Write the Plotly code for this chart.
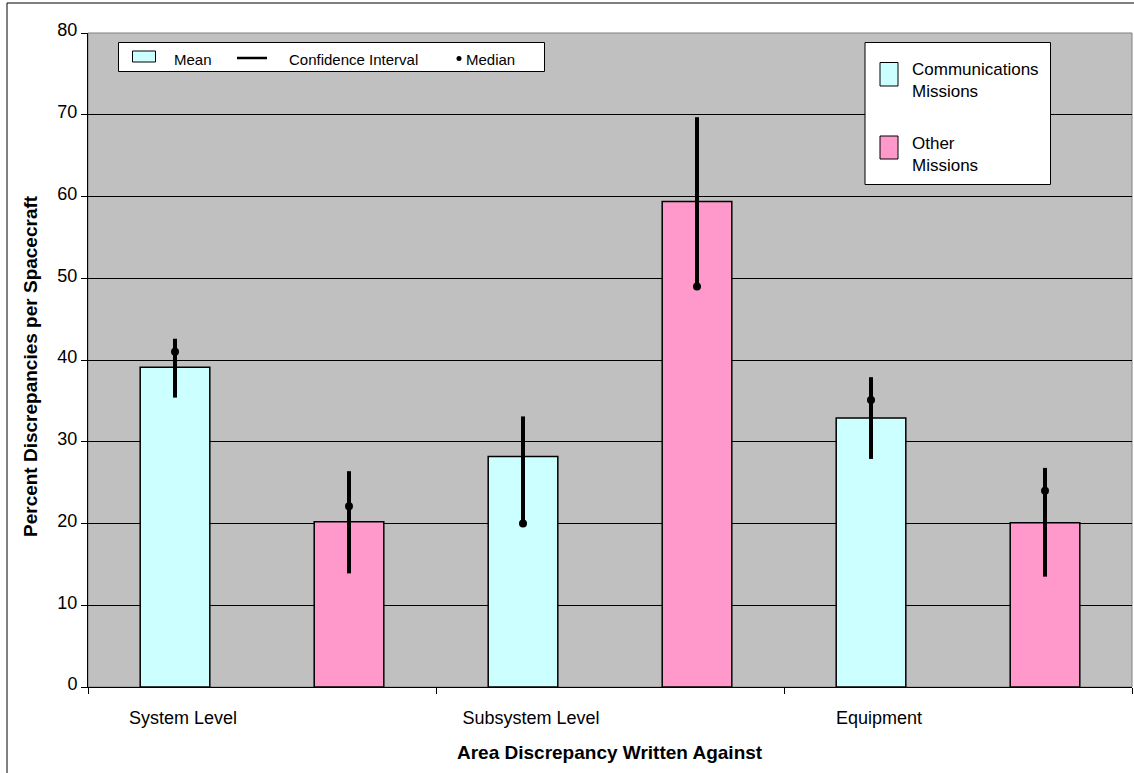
import plotly.graph_objects as go

# ---- data ----
categories = ["System Level", "Subsystem Level", "Equipment"]
comm_mean = [39.1, 28.2, 32.9]
comm_ci_low = [35.4, 20.0, 27.9]
comm_ci_high = [42.6, 33.1, 37.9]
comm_median = [41.0, 20.0, 35.1]
other_mean = [20.2, 59.4, 20.1]
other_ci_low = [13.9, 49.0, 13.5]
other_ci_high = [26.4, 69.7, 26.8]
other_median = [22.1, 49.0, 24.0]
y_ticks = [0, 10, 20, 30, 40, 50, 60, 70, 80]

COMM = "#CCFFFF"
OTHER = "#FF99CC"
FONT = "Liberation Sans, Arial, sans-serif"

W, H = 1134, 773
ML, MR, MT, MB = 88, 2, 33, 86
PW = W - ML - MR
PH = H - MT - MB


def X(px):
    return (px - ML) / PW


def Y(py):
    return (H - MB - py) / PH


fig = go.Figure()


def add_series(name, means, lo, hi, color, grp):
    fig.add_trace(go.Bar(
        x=categories, y=means, name=name,
        marker=dict(color=color, line=dict(color="black", width=1.5)),
        offsetgroup=grp, showlegend=False,
        error_y=dict(type="data", symmetric=False,
                     array=[h - m for h, m in zip(hi, means)],
                     arrayminus=[m - l for m, l in zip(means, lo)],
                     color="black", thickness=4, width=0),
    ))


add_series("Communications Missions", comm_mean, comm_ci_low, comm_ci_high, COMM, "comm")
add_series("Other Missions", other_mean, other_ci_low, other_ci_high, OTHER, "other")

for med, grp in [(comm_median, "comm"), (other_median, "other")]:
    fig.add_trace(go.Scatter(
        x=categories, y=med, mode="markers", offsetgroup=grp, alignmentgroup="m",
        marker=dict(color="black", size=8), showlegend=False, cliponaxis=False,
    ))

shapes = []
annotations = []

# outer frame
shapes.append(dict(type="rect", xref="paper", yref="paper", x0=X(7), x1=X(1145), y0=Y(3), y1=Y(790),
                   line=dict(color="black", width=1), fillcolor="rgba(0,0,0,0)", layer="below"))
# plot area border (gray)
shapes.append(dict(type="rect", xref="paper", yref="paper", x0=0, x1=1, y0=0, y1=1,
                   line=dict(color="#808080", width=1), layer="below"))

# legend 1
shapes.append(dict(type="rect", xref="paper", yref="paper", x0=X(118.5), x1=X(544.5), y0=Y(42.5), y1=Y(71.5),
                   fillcolor="white", line=dict(color="black", width=1)))
shapes.append(dict(type="rect", xref="paper", yref="paper", x0=X(132.5), x1=X(155.5), y0=Y(51), y1=Y(62),
                   fillcolor=COMM, line=dict(color="black", width=1)))
shapes.append(dict(type="line", xref="paper", yref="paper", x0=X(237), x1=X(267), y0=Y(58), y1=Y(58),
                   line=dict(color="black", width=2.5)))
shapes.append(dict(type="circle", xref="paper", yref="paper", x0=X(456.5), x1=X(461.5), y0=Y(56), y1=Y(61),
                   fillcolor="black", line=dict(color="black", width=0)))
for txt, px in [("Mean", 172), ("Confidence Interval", 287), ("Median", 464)]:
    annotations.append(dict(text=txt, xref="paper", yref="paper", x=X(px), y=Y(59), xanchor="left",
                            yanchor="middle", showarrow=False, font=dict(size=15, color="black", family=FONT)))

# legend 2
shapes.append(dict(type="rect", xref="paper", yref="paper", x0=X(865), x1=X(1050.5), y0=Y(42.5), y1=Y(184.5),
                   fillcolor="white", line=dict(color="black", width=1)))
shapes.append(dict(type="rect", xref="paper", yref="paper", x0=X(880), x1=X(898), y0=Y(62.5), y1=Y(86),
                   fillcolor=COMM, line=dict(color="black", width=1)))
shapes.append(dict(type="rect", xref="paper", yref="paper", x0=X(880), x1=X(898), y0=Y(136), y1=Y(159),
                   fillcolor=OTHER, line=dict(color="black", width=1)))
for txt, py in [("Communications<br>Missions", 80), ("Other<br>Missions", 154.5)]:
    annotations.append(dict(text=txt, xref="paper", yref="paper", x=X(910), y=Y(py), xanchor="left",
                            yanchor="middle", align="left", showarrow=False,
                            font=dict(size=17, color="black", family=FONT)))

# axis titles
annotations.append(dict(text="<b>Area Discrepancy Written Against</b>", xref="paper", yref="paper",
                        x=X(610), y=Y(752), xanchor="center", yanchor="middle", showarrow=False,
                        font=dict(size=19, color="black", family=FONT)))
annotations.append(dict(text="<b>Percent Discrepancies per Spacecraft</b>", xref="paper", yref="paper",
                        x=X(31), y=Y(366), xanchor="center", yanchor="middle", showarrow=False, textangle=-90,
                        font=dict(size=19, color="black", family=FONT)))

fig.update_layout(
    width=W, height=H,
    margin=dict(l=ML, r=MR, t=MT, b=MB, pad=0),
    paper_bgcolor="white", plot_bgcolor="#C0C0C0",
    barmode="group", bargap=0, bargroupgap=0.6,
    scattermode="group", scattergap=0,
    font=dict(family=FONT, color="black", size=18),
    shapes=shapes, annotations=annotations,
    xaxis=dict(type="category", showgrid=False, showline=True, linecolor="black", linewidth=1,
               ticks="outside", tickson="boundaries", ticklen=6, tickcolor="black", tickwidth=1,
               ticklabelshift=-79, ticklabelstandoff=14, tickfont=dict(size=18), zeroline=False),
    yaxis=dict(range=[0, 80], tickvals=y_ticks, showgrid=True, gridcolor="black", gridwidth=1,
               showline=True, linecolor="black", linewidth=1, ticks="outside", ticklen=6,
               tickcolor="black", tickwidth=1, tickfont=dict(size=18), zeroline=False,
               ticklabelshift=-3, ticklabelstandoff=0),
)

fig.write_html("out.html", config={"displayModeBar": False},
               post_script="document.body.style.margin='0';document.body.style.overflow='hidden';")
